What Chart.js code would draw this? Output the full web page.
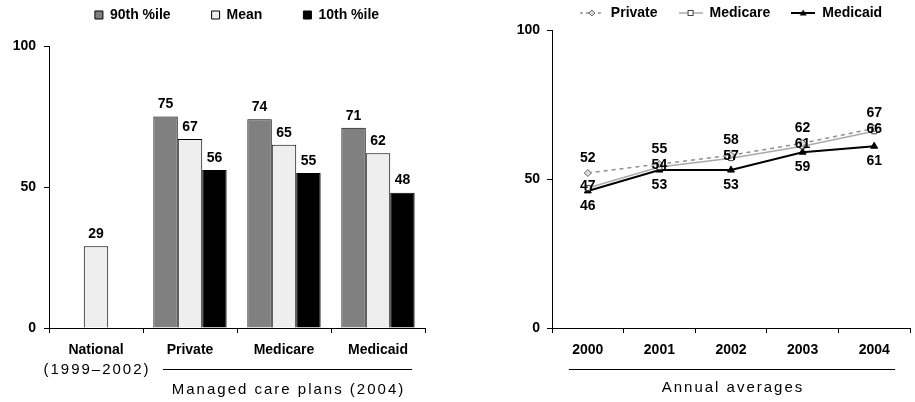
<!DOCTYPE html>
<html>
<head>
<meta charset="utf-8">
<title>Managed care plans</title>
<script src="https://cdn.jsdelivr.net/npm/chart.js@4"></script>
<style>
  body { margin: 0; background: #fff; overflow: hidden; }
  canvas { position: absolute; top: 0; }
  #barChart { left: 0; }
  #lineChart { left: 470px; }
</style>
</head>
<body>
<canvas id="barChart" width="470" height="402"></canvas>
<canvas id="lineChart" width="445" height="402"></canvas>
<script>
// left panel
const planLabels = ['National', 'Private', 'Medicare', 'Medicaid'];
const p90Vals = [null, 75, 74, 71];
const meanVals = [29, 67, 65, 62];
const p10Vals = [null, 56, 55, 48];
const nationalNote = '(1999–2002)';
const planGroupTitle = 'Managed care plans (2004)';

// right panel
const years = ['2000', '2001', '2002', '2003', '2004'];
const privateVals = [52, 55, 58, 62, 67];
const medicareVals = [47, 54, 57, 61, 66];
const medicaidVals = [46, 53, 53, 59, 61];
const yearGroupTitle = 'Annual averages';

const yTicks = [0, 50, 100];

const fontFamily = 'Arial, "Liberation Sans", sans-serif';
Chart.defaults.font.family = fontFamily;
Chart.defaults.color = '#000';
const bold14 = { size: 14, weight: 'bold' };

// numbers over bars / points
function valueLabels(offsets) {
  return {
    id: 'valueLabels',
    afterDatasetsDraw(chart) {
      const ctx = chart.ctx;
      ctx.save();
      ctx.font = 'bold 14px ' + fontFamily;
      ctx.fillStyle = '#000';
      ctx.textAlign = 'center';
      ctx.textBaseline = 'middle';
      chart.data.datasets.forEach((ds, i) => {
        chart.getDatasetMeta(i).data.forEach((el, j) => {
          if (ds.data[j] == null) return;
          ctx.fillText(String(ds.data[j]), el.x, el.y + offsets[i]);
        });
      });
      ctx.restore();
    }
  };
}

// underline + caption below a run of categories
function groupCaption(o) {
  return {
    id: 'groupCaption',
    afterDraw(chart) {
      const sx = chart.scales.x;
      const ctx = chart.ctx;
      const x0 = sx.getPixelForValue(o.from) - o.padLeft;
      const x1 = sx.getPixelForValue(o.to) + o.padRight;
      ctx.save();
      ctx.strokeStyle = '#000';
      ctx.lineWidth = 1;
      ctx.beginPath();
      ctx.moveTo(x0, sx.top + 41.5);
      ctx.lineTo(x1, sx.top + 41.5);
      ctx.stroke();
      ctx.font = '15px ' + fontFamily;
      ctx.letterSpacing = '2px';
      ctx.fillStyle = '#000';
      ctx.textAlign = 'center';
      ctx.textBaseline = 'middle';
      ctx.fillText(o.text, (x0 + x1) / 2 + 1, sx.top + o.textDy);
      if (o.note) {
        ctx.fillText(o.note, sx.getPixelForValue(o.noteAt) + 1, sx.top + 42);
      }
      ctx.restore();
    }
  };
}

function axisY(width, pad) {
  return {
    min: 0, max: 100,
    afterBuildTicks: s => { s.ticks = yTicks.map(v => ({ value: v })); },
    afterFit: s => { s.width = width; },
    grid: { drawOnChartArea: false, tickLength: 5, color: '#000' },
    border: { color: '#000' },
    ticks: { font: bold14, padding: pad, color: '#000' }
  };
}

function axisX() {
  return {
    offset: true,
    afterFit: s => { s.height = 74; },
    grid: { offset: true, drawOnChartArea: false, tickLength: 5, color: '#000' },
    border: { color: '#000' },
    ticks: { font: bold14, padding: 9, color: '#000', maxRotation: 0, autoSkip: false }
  };
}

new Chart(document.getElementById('barChart'), {
  type: 'bar',
  data: {
    labels: planLabels,
    datasets: [
      { label: '90th %ile', data: p90Vals, backgroundColor: '#808080', borderColor: '#000', borderWidth: 1 },
      { label: 'Mean', data: meanVals, backgroundColor: '#eeeeee', borderColor: '#000', borderWidth: 1 },
      { label: '10th %ile', data: p10Vals, backgroundColor: '#000000', borderColor: '#000', borderWidth: 1 }
    ]
  },
  options: {
    responsive: false,
    animation: false,
    categoryPercentage: 0.78,
    barPercentage: 1,
    layout: { padding: { top: -33, left: 0, right: 45, bottom: 0 } },
    scales: { x: axisX(), y: axisY(49, 8) },
    plugins: {
      tooltip: { enabled: false },
      legend: {
        position: 'top', fullSize: false, align: 'center',
        labels: { boxWidth: 8, boxHeight: 8, padding: 41, font: bold14, color: '#000' }
      },
      subtitle: {
        display: true, text: ' ', weight: 500, fullSize: false, position: 'top',
        font: { size: 1, lineHeight: 1 }, padding: { top: 0, bottom: 13 }
      }
    }
  },
  plugins: [
    valueLabels([-12, -12, -12]),
    groupCaption({ from: 1, to: 3, padLeft: 27, padRight: 34, text: planGroupTitle, textDy: 62,
                   note: nationalNote, noteAt: 0 })
  ]
});

function makeIcon(draw) {
  const c = document.createElement('canvas');
  c.width = 24; c.height = 12;
  const g = c.getContext('2d');
  draw(g);
  return c;
}

const legendIcons = [
  makeIcon(g => {
    g.strokeStyle = '#909090'; g.lineWidth = 1.5; g.setLineDash([3, 3]);
    g.beginPath(); g.moveTo(0, 6); g.lineTo(24, 6); g.stroke();
    g.setLineDash([]);
    g.beginPath(); g.moveTo(12, 3); g.lineTo(15, 6); g.lineTo(12, 9); g.lineTo(9, 6); g.closePath();
    g.fillStyle = '#dddddd'; g.fill(); g.strokeStyle = '#666'; g.lineWidth = 1; g.stroke();
  }),
  makeIcon(g => {
    g.strokeStyle = '#aaaaaa'; g.lineWidth = 1.5;
    g.beginPath(); g.moveTo(0, 6); g.lineTo(24, 6); g.stroke();
    g.fillStyle = '#fff'; g.fillRect(9.5, 3.5, 5, 5);
    g.strokeStyle = '#444'; g.lineWidth = 1; g.strokeRect(9.5, 3.5, 5, 5);
  }),
  makeIcon(g => {
    g.strokeStyle = '#000'; g.lineWidth = 2;
    g.beginPath(); g.moveTo(0, 6); g.lineTo(24, 6); g.stroke();
    g.fillStyle = '#000';
    g.beginPath(); g.moveTo(12, 2.5); g.lineTo(15.5, 8.5); g.lineTo(8.5, 8.5); g.closePath(); g.fill();
  })
];

new Chart(document.getElementById('lineChart'), {
  type: 'line',
  data: {
    labels: years,
    datasets: [
      { label: 'Private', data: privateVals, borderColor: '#909090', borderWidth: 1.5, borderDash: [4, 4],
        pointStyle: 'rectRot', pointRadius: 3.5, pointBackgroundColor: '#dddddd', pointBorderColor: '#666', pointBorderWidth: 1 },
      { label: 'Medicare', data: medicareVals, borderColor: '#aaaaaa', borderWidth: 1.5,
        pointStyle: 'rect', pointRadius: 3.5, pointBackgroundColor: '#fff', pointBorderColor: '#444', pointBorderWidth: 1 },
      { label: 'Medicaid', data: medicaidVals, borderColor: '#000', borderWidth: 2,
        pointStyle: 'triangle', pointRadius: 4, pointBackgroundColor: '#000', pointBorderColor: '#000', pointBorderWidth: 1 }
    ]
  },
  options: {
    responsive: false,
    animation: false,
    layout: { padding: { top: -15, left: 0, right: 0, bottom: 0 } },
    scales: { x: axisX(), y: axisY(82, 7) },
    plugins: {
      tooltip: { enabled: false },
      legend: {
        position: 'top', fullSize: false, align: 'center',
        labels: {
          usePointStyle: true, pointStyleWidth: 24, padding: 21, font: bold14, color: '#000',
          generateLabels(chart) {
            const items = Chart.defaults.plugins.legend.labels.generateLabels(chart);
            items.forEach((it, i) => { it.pointStyle = legendIcons[i]; });
            return items;
          }
        }
      }
    }
  },
  plugins: [
    valueLabels([-15, -2, 15]),
    groupCaption({ from: 0, to: 4, padLeft: 19, padRight: 21, text: yearGroupTitle, textDy: 60 })
  ]
});
</script>
</body>
</html>
